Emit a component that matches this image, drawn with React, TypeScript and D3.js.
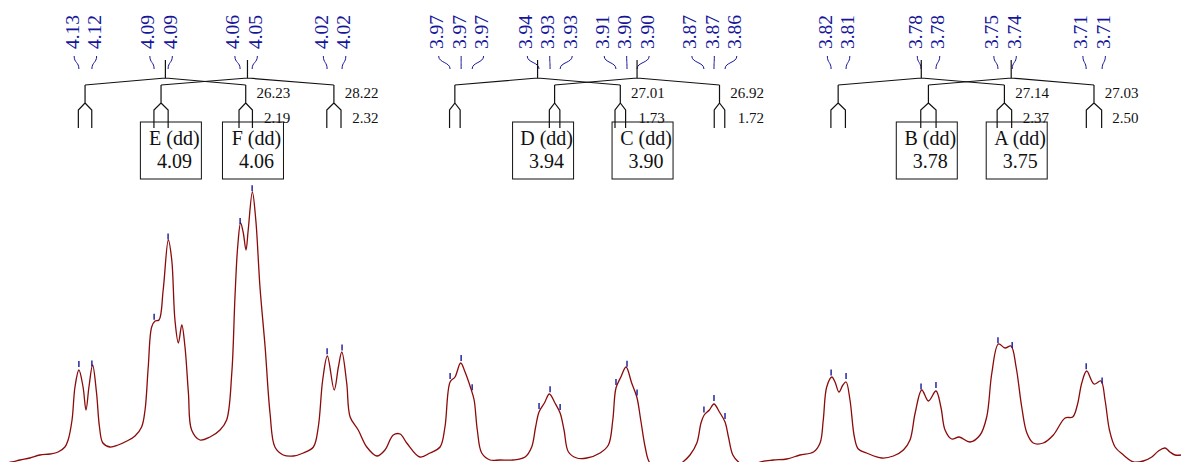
import React from 'react';
import * as d3 from 'd3';

// ---------- data ----------
const spectrometerMHz = 400;

// spectrum trace (ppm, intensity)
const specPpm = [
  4.1575, 4.1526, 4.1493, 4.1453, 4.1412, 4.1371, 4.1338, 4.1310, 4.1297, 4.1281,
  4.1269, 4.1253, 4.1236, 4.1224, 4.1212, 4.1197, 4.1181, 4.1169, 4.1155, 4.1126,
  4.1093, 4.1057, 4.1024, 4.0997, 4.0983, 4.0970, 4.0956, 4.0942, 4.0926, 4.0909,
  4.0888, 4.0874, 4.0861, 4.0847, 4.0833, 4.0820, 4.0806, 4.0793, 4.0759, 4.0718,
  4.0677, 4.0650, 4.0629, 4.0616, 4.0605, 4.0593, 4.0582, 4.0571, 4.0562, 4.0545,
  4.0531, 4.0514, 4.0493, 4.0473, 4.0453, 4.0419, 4.0378, 4.0337, 4.0296, 4.0276,
  4.0258, 4.0239, 4.0211, 4.0194, 4.0180, 4.0160, 4.0146, 4.0113, 4.0078, 4.0037,
  4.0004, 3.9970, 3.9942, 3.9915, 3.9861, 3.9820, 3.9779, 3.9759, 3.9738, 3.9718,
  3.9695, 3.9677, 3.9654, 3.9640, 3.9627, 3.9609, 3.9575, 3.9534, 3.9481, 3.9432,
  3.9405, 3.9389, 3.9375, 3.9353, 3.9333, 3.9310, 3.9289, 3.9273, 3.9255, 3.9221,
  3.9180, 3.9126, 3.9092, 3.9074, 3.9061, 3.9041, 3.9020, 3.8997, 3.8976, 3.8960,
  3.8942, 3.8925, 3.8897, 3.8857, 3.8816, 3.8788, 3.8759, 3.8731, 3.8714, 3.8701,
  3.8680, 3.8661, 3.8639, 3.8616, 3.8602, 3.8584, 3.8561, 3.8534, 3.8502, 3.8473,
  3.8419, 3.8364, 3.8310, 3.8255, 3.8228, 3.8215, 3.8201, 3.8180, 3.8167, 3.8151,
  3.8135, 3.8122, 3.8106, 3.8088, 3.8072, 3.8038, 3.7976, 3.7929, 3.7888, 3.7861,
  3.7840, 3.7813, 3.7786, 3.7755, 3.7735, 3.7718, 3.7691, 3.7660, 3.7616, 3.7575,
  3.7548, 3.7527, 3.7500, 3.7473, 3.7449, 3.7428, 3.7405, 3.7384, 3.7358, 3.7317,
  3.7276, 3.7228, 3.7197, 3.7178, 3.7160, 3.7140, 3.7110, 3.7082, 3.7065, 3.7047,
  3.7024, 3.6990, 3.6949, 3.6909, 3.6874, 3.6847, 3.6820, 3.6800, 3.6779, 3.6755,
];
const specInt = [
  1, 3, 5, 7, 10, 11, 13, 18, 25, 45,
  78, 95, 78, 55, 78, 100, 72, 38, 22, 18,
  20, 24, 29, 38, 55, 98, 138, 144, 145, 175,
  225, 205, 145, 122, 140, 118, 72, 35, 25, 28,
  35, 45, 92, 168, 218, 242, 232, 215, 235, 273,
  245, 178, 118, 52, 18, 10, 9, 12, 18, 38,
  85, 109, 75, 98, 113, 82, 48, 35, 18, 9,
  15, 30, 31, 22, 8, 12, 18, 38, 83, 88,
  102, 93, 77, 65, 35, 12, 5, 5, 5, 8,
  18, 38, 53, 62, 71, 62, 52, 35, 13, 7,
  7, 12, 20, 45, 77, 88, 98, 82, 68, 45,
  18, 3, -2, -3, -2, 3, 10, 22, 42, 50,
  55, 61, 53, 43, 28, 10, 3, -1, -1, 3,
  5, 6, 10, 13, 22, 45, 78, 88, 83, 73,
  80, 83, 65, 28, 16, 12, 7, 9, 15, 25,
  52, 75, 64, 74, 58, 35, 26, 28, 23, 30,
  48, 92, 121, 117, 119, 98, 58, 32, 22, 22,
  30, 47, 48, 60, 82, 94, 81, 84, 65, 35,
  18, 10, 3, 4, 8, 14, 17, 13, 10, 10,
];

// picked peaks
const peakPpm = [
  4.1253, 4.1200, 4.0946, 4.0889, 4.0595, 4.0546, 4.0240, 4.0179,
  3.9738, 3.9693, 3.9648, 3.9375, 3.9330, 3.9289, 3.9061, 3.9016, 3.8975,
  3.8702, 3.8661, 3.8616, 3.8183, 3.8122, 3.7816, 3.7755, 3.7502, 3.7444,
  3.7142, 3.7077,
];
const peakLabels = [
  '4.13', '4.12', '4.09', '4.09', '4.06', '4.05', '4.02', '4.02',
  '3.97', '3.97', '3.97', '3.94', '3.93', '3.93', '3.91', '3.90', '3.90',
  '3.87', '3.87', '3.86', '3.82', '3.81', '3.78', '3.78', '3.75', '3.74',
  '3.71', '3.71',
];

// multiplets
const multipletNames = ['E', 'F', 'D', 'C', 'B', 'A'];
const multipletTypes = ['dd', 'dd', 'dd', 'dd', 'dd', 'dd'];
const multipletShiftText = ['4.09', '4.06', '3.94', '3.90', '3.78', '3.75'];
const multipletCenters = [4.0900, 4.0565, 3.9381, 3.8975, 3.7815, 3.7448];
const multipletJ1 = [26.23, 28.22, 27.01, 26.92, 27.14, 27.03];
const multipletJ2 = [2.19, 2.32, 1.73, 1.72, 2.37, 2.50];

// ---------- drawing ----------
const W = 1181;
const H = 462;
const SERIF = "'Liberation Serif', 'Times New Roman', serif";
const LABEL_BLUE = '#16169a';
const TRACE = '#8b0a0a';

export default function App() {
  const x = d3.scaleLinear().domain([4.1575, 3.6755]).range([0, W]);
  const y = d3.scaleLinear().domain([0, 280]).range([465, 185]);

  const pts: [number, number][] = specPpm.map((p, i) => [x(p), y(specInt[i])]);
  const line = d3
    .line<[number, number]>()
    .x(d => d[0])
    .y(d => d[1])
    .curve(d3.curveCatmullRom.alpha(0.5));
  const tracePath = line(pts) || '';

  // intensity at a given ppm (linear interpolation of trace)
  const xsAsc = pts.map(p => p[0]);
  const yAt = (px: number) => {
    const i = d3.bisectLeft(xsAsc, px);
    if (i <= 0) return pts[0][1];
    if (i >= pts.length) return pts[pts.length - 1][1];
    const [x0, y0] = pts[i - 1];
    const [x1, y1] = pts[i];
    const t = (px - x0) / (x1 - x0);
    return y0 + (y1 - y0) * t;
  };

  // label groups: close peaks get spread labels
  const peakX = peakPpm.map(p => x(p));
  const groups: number[][] = [];
  peakX.forEach((px, i) => {
    const g = groups[groups.length - 1];
    if (g && px - peakX[g[g.length - 1]] < 20) g.push(i);
    else groups.push([i]);
  });
  const labelX: number[] = new Array(peakX.length);
  const spacing = 22.5;
  groups.forEach(g => {
    const c = d3.mean(g, i => peakX[i]) as number;
    g.forEach((i, k) => {
      labelX[i] = c + (k - (g.length - 1) / 2) * spacing;
    });
  });

  const hz = (J: number) => J / spectrometerMHz; // ppm

  return (
    <svg width={W} height={H} style={{ position: 'absolute', left: 0, top: 0, background: '#fff' }}>
      <rect x={0} y={0} width={W} height={H} fill="#fff" />
      <defs>
        <clipPath id="plotclip">
          <rect x={0} y={0} width={W} height={H} />
        </clipPath>
      </defs>

      {/* peak labels and connectors */}
      {peakX.map((px, i) => {
        const lx = labelX[i];
        return (
          <g key={'pl' + i}>
            <path
              d={`M${lx},56 C${lx},63 ${px},62 ${px},69`}
              fill="none"
              stroke={LABEL_BLUE}
              strokeWidth={1}
            />
            <text
              transform={`translate(${lx + 4.5},49) rotate(-90)`}
              fontFamily={SERIF}
              fontSize={19.5}
              fill={LABEL_BLUE}
            >
              {peakLabels[i]}
            </text>
          </g>
        );
      })}

      {/* multiplet trees and boxes */}
      {multipletNames.map((name, i) => {
        const c = multipletCenters[i];
        const cx = x(c);
        const bL = x(c + hz(multipletJ1[i]) / 2);
        const bR = x(c - hz(multipletJ1[i]) / 2);
        const legs = [bL, bR].map(b => {
          const bp = x.invert(b);
          return [x(bp + hz(multipletJ2[i]) / 2), x(bp - hz(multipletJ2[i]) / 2)];
        });
        const st = { fill: 'none', stroke: '#111', strokeWidth: 1.2 } as const;
        return (
          <g key={'m' + i}>
            <path d={`M${cx},60 L${cx},78 M${cx},78 L${bL},85 M${cx},78 L${bR},85`} {...st} />
            {[bL, bR].map((b, k) => (
              <path
                key={k}
                d={`M${b},85 L${b},103 L${legs[k][0]},110 L${legs[k][0]},128 M${b},103 L${legs[k][1]},110 L${legs[k][1]},128`}
                {...st}
              />
            ))}
            <text x={bR + 44.5} y={98} textAnchor="end" fontFamily={SERIF} fontSize={15} fill="#111">
              {multipletJ1[i].toFixed(2)}
            </text>
            <text x={bR + 44.5} y={123} textAnchor="end" fontFamily={SERIF} fontSize={15} fill="#111">
              {multipletJ2[i].toFixed(2)}
            </text>
            <rect x={cx + 5.5 - 30.5} y={122} width={61} height={57} fill="none" stroke="#111" strokeWidth={1} />
            <text x={cx + 9} y={145} textAnchor="middle" fontFamily={SERIF} fontSize={20} fill="#111">
              {`${name} (${multipletTypes[i]})`}
            </text>
            <text x={cx + 9} y={168} textAnchor="middle" fontFamily={SERIF} fontSize={20} fill="#111">
              {multipletShiftText[i]}
            </text>
          </g>
        );
      })}

      {/* spectrum trace */}
      <path d={tracePath} fill="none" stroke={TRACE} strokeWidth={1.3} clipPath="url(#plotclip)" />

      {/* peak ticks */}
      {peakX.map((px, i) => {
        const py = yAt(px);
        return (
          <line
            key={'t' + i}
            x1={px}
            x2={px}
            y1={py - 9}
            y2={py - 3}
            stroke={LABEL_BLUE}
            strokeWidth={1.4}
          />
        );
      })}
    </svg>
  );
}
